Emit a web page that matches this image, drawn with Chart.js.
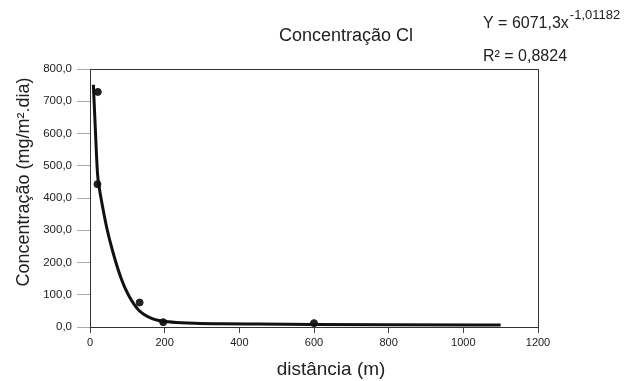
<!DOCTYPE html>
<html>
<head>
<meta charset="utf-8">
<script src="https://cdn.jsdelivr.net/npm/chart.js@4"></script>
<style>
  html, body { margin: 0; padding: 0; background: #fff; }
  #wrap { width: 634px; height: 381px; }
</style>
</head>
<body>
<div id="wrap"><canvas id="chart" width="634" height="381"></canvas></div>
<script>
// measured points
const distancia = [21, 20, 133, 196, 600];
const concentracao = [729, 443, 76, 15, 12];

// fitted trend line
const curvaX = [9, 14, 20, 25, 31, 45, 60, 83, 103, 130, 165, 210, 280, 350, 450, 600, 800, 1100];
const curvaY = [751, 622, 478, 430, 390, 307, 238, 152, 99, 53, 27, 16, 12, 10, 9, 8, 7, 6];

const xTicks = [0, 200, 400, 600, 800, 1000, 1200];
const yTicks = [0, 100, 200, 300, 400, 500, 600, 700, 800];

const FONT = '"Liberation Sans", Arial, sans-serif';
const INK = '#222';

// frame + titles + equation text
const decor = {
    id: 'decor',
    afterDraw(chart) {
        const { ctx, chartArea: a } = chart;
        ctx.save();
        ctx.strokeStyle = '#333';
        ctx.lineWidth = 1;
        ctx.strokeRect(a.left + 0.5, a.top + 0.5, a.right - a.left, a.bottom - a.top);

        ctx.fillStyle = INK;
        ctx.textBaseline = 'alphabetic';
        ctx.textAlign = 'center';
        ctx.font = '18px ' + FONT;
        ctx.fillText('Concentração Cl', 346, 41);
        ctx.font = '19px ' + FONT;
        ctx.fillText('distância (m)', 331, 375);

        ctx.save();
        ctx.translate(29, 182);
        ctx.rotate(-Math.PI / 2);
        ctx.font = '18px ' + FONT;
        ctx.fillText('Concentração (mg/m².dia)', 0, 0);
        ctx.restore();

        ctx.textAlign = 'left';
        ctx.font = '16px ' + FONT;
        const base = 'Y = 6071,3x';
        ctx.fillText(base, 483, 28);
        const w = ctx.measureText(base).width;
        ctx.font = '13px ' + FONT;
        ctx.fillText('-1,01182', 483 + w + 1, 19);
        ctx.font = '16px ' + FONT;
        ctx.fillText('R² = 0,8824', 483, 61);
        ctx.restore();
    }
};

const fmt = v => v.toFixed(1).replace('.', ',');

new Chart(document.getElementById('chart').getContext('2d'), {
    type: 'scatter',
    data: {
        datasets: [
            {
                type: 'line',
                label: 'ajuste',
                data: curvaX.map((x, i) => ({ x, y: curvaY[i] })),
                borderColor: '#111',
                borderWidth: 3,
                pointRadius: 0,
                cubicInterpolationMode: 'monotone',
                fill: false
            },
            {
                label: 'Cl',
                data: distancia.map((x, i) => ({ x, y: concentracao[i] })),
                backgroundColor: '#222',
                borderColor: '#222',
                pointRadius: 3.5
            }
        ]
    },
    options: {
        responsive: false,
        animation: false,
        layout: { padding: { top: 69, right: 96, left: 0, bottom: 0 } },
        plugins: { legend: { display: false }, tooltip: { enabled: false } },
        scales: {
            x: {
                type: 'linear', min: 0, max: 1200,
                afterBuildTicks: s => { s.ticks = xTicks.map(v => ({ value: v })); },
                afterFit: s => { s.height = 54; },
                grid: { drawOnChartArea: false, drawTicks: true, tickLength: 6, color: '#444' },
                border: { color: '#333' },
                ticks: { color: INK, font: { family: FONT, size: 11 }, padding: 3, maxRotation: 0,
                         callback: v => String(v) }
            },
            y: {
                min: 0, max: 800,
                afterBuildTicks: s => { s.ticks = yTicks.map(v => ({ value: v })); },
                afterFit: s => { s.width = 90; },
                grid: { drawOnChartArea: false, drawTicks: true, tickLength: 13, color: '#aaa' },
                border: { color: '#333' },
                ticks: { color: INK, font: { family: FONT, size: 11.5 }, padding: 5, callback: v => fmt(v) }
            }
        }
    },
    plugins: [decor]
});
</script>
</body>
</html>
